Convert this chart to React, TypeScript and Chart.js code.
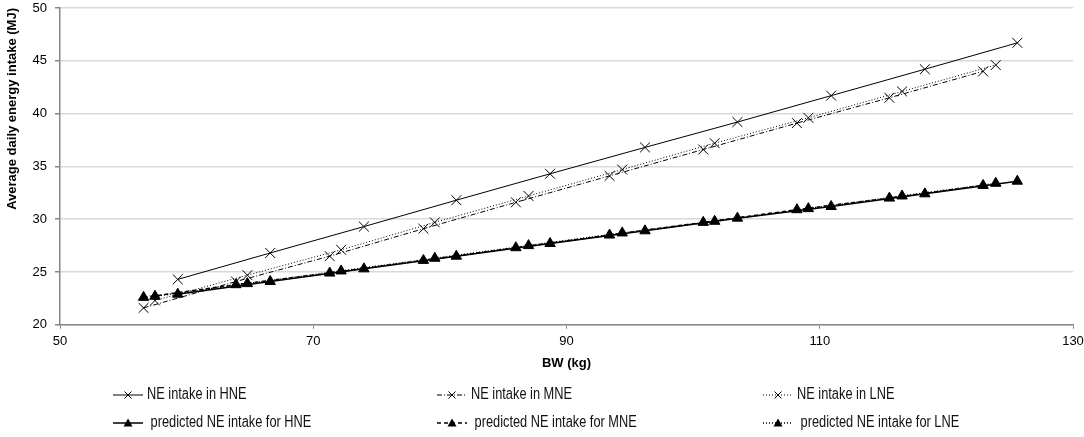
import { useEffect, useRef } from "react";
import Chart from "chart.js/auto";

// body weight (kg) per group
const bwHNE = [59.3, 66.6, 74.0, 81.3, 88.7, 96.2, 103.5, 110.9, 118.3, 125.6];
const bwMNE = [56.6, 63.9, 71.3, 78.7, 86.0, 93.4, 100.8, 108.2, 115.5, 122.9];
const bwLNE = [57.5, 64.8, 72.2, 79.6, 87.0, 94.4, 101.7, 109.1, 116.5, 123.9];

// observed NE intake (MJ/d)
const neHNE = [24.3, 26.8, 29.3, 31.8, 34.3, 36.8, 39.2, 41.7, 44.2, 46.7];
const neMNE = [21.6, 24.1, 26.5, 29.1, 31.6, 34.1, 36.6, 39.1, 41.5, 44.0];
const neLNE = [22.3, 24.7, 27.1, 29.7, 32.2, 34.7, 37.2, 39.6, 42.1, 44.6];

// predicted NE intake (MJ/d)
const predHNE = [22.9, 24.1, 25.3, 26.5, 27.7, 28.9, 30.1, 31.2, 32.4, 33.6];
const predMNE = [22.6, 23.8, 24.9, 26.1, 27.3, 28.5, 29.7, 30.9, 32.0, 33.2];
const predLNE = [22.7, 23.9, 25.1, 26.3, 27.5, 28.7, 29.8, 31.0, 32.2, 33.4];

const xTicks = [50, 70, 90, 110, 130];
const yTicks = [20, 25, 30, 35, 40, 45, 50];

const FONT = "'Liberation Sans', Arial, sans-serif";
const SOLID: number[] = [];
const DASHDOT = [5, 2, 1, 2];
const DASHED = [4, 3];
const DOTTED = [1, 2];

const toPoints = (xs: number[], ys: number[]) => xs.map((x, i) => ({ x, y: ys[i] }));

const series = [
  { label: "NE intake in HNE", xs: bwHNE, ys: neHNE, dash: SOLID, style: "crossRot", width: 1 },
  { label: "NE intake in MNE", xs: bwMNE, ys: neMNE, dash: DASHDOT, style: "crossRot", width: 1 },
  { label: "NE intake in LNE", xs: bwLNE, ys: neLNE, dash: DOTTED, style: "crossRot", width: 1 },
  { label: " predicted NE intake for HNE", xs: bwHNE, ys: predHNE, dash: SOLID, style: "triangle", width: 1.5 },
  { label: " predicted NE intake for MNE", xs: bwMNE, ys: predMNE, dash: DASHED, style: "triangle", width: 1.5 },
  { label: " predicted NE intake for LNE", xs: bwLNE, ys: predLNE, dash: DOTTED, style: "triangle", width: 1.5 },
];

// legend grid: 3 columns x 2 rows under the axis title
const legendCols = [113, 437, 763];
const legendRows = [395, 423];

const drawMarker = (ctx: CanvasRenderingContext2D, style: string, x: number, y: number) => {
  ctx.save();
  ctx.setLineDash([]);
  ctx.strokeStyle = "#000";
  ctx.fillStyle = "#000";
  ctx.lineWidth = 1;
  if (style === "crossRot") {
    const r = 3.5;
    ctx.beginPath();
    ctx.moveTo(x - r, y - r);
    ctx.lineTo(x + r, y + r);
    ctx.moveTo(x + r, y - r);
    ctx.lineTo(x - r, y + r);
    ctx.stroke();
  } else {
    const r = 4.5;
    ctx.beginPath();
    ctx.moveTo(x, y - r);
    ctx.lineTo(x + r, y + r * 0.8);
    ctx.lineTo(x - r, y + r * 0.8);
    ctx.closePath();
    ctx.fill();
  }
  ctx.restore();
};

const gridLegend = {
  id: "gridLegend",
  afterDraw(chart: Chart) {
    const ctx = chart.ctx;
    ctx.save();
    ctx.font = `16px ${FONT}`;
    ctx.textBaseline = "middle";
    ctx.fillStyle = "#111";
    series.forEach((s, i) => {
      const x = legendCols[i % 3];
      const y = legendRows[Math.floor(i / 3)];
      ctx.strokeStyle = "#000";
      ctx.lineWidth = s.width;
      ctx.setLineDash(s.dash);
      ctx.beginPath();
      ctx.moveTo(x, y);
      ctx.lineTo(x + 30, y);
      ctx.stroke();
      drawMarker(ctx, s.style, x + 15, y);
      // narrow face is not installed, so squeeze the regular one
      ctx.save();
      ctx.translate(x + 34, y);
      ctx.scale(0.8, 1);
      ctx.fillText(s.label, 0, 0);
      ctx.restore();
    });
    ctx.restore();
  },
};

const EnergyChart = () => {
  const canvasRef = useRef<HTMLCanvasElement>(null);
  const chartRef = useRef<Chart | null>(null);

  useEffect(() => {
    document.body.style.margin = "0";
    if (!canvasRef.current) return;
    if (chartRef.current) chartRef.current.destroy();

    chartRef.current = new Chart(canvasRef.current, {
      type: "scatter",
      data: {
        datasets: series.map((s) => ({
          label: s.label,
          data: toPoints(s.xs, s.ys),
          showLine: true,
          borderColor: "#000",
          backgroundColor: "#000",
          borderWidth: s.width,
          borderDash: s.dash,
          pointStyle: s.style,
          pointRadius: s.style === "crossRot" ? 7 : 6,
          pointBorderWidth: 1,
          pointBorderColor: "#000",
          pointBackgroundColor: "#000",
        })),
      },
      options: {
        responsive: true,
        maintainAspectRatio: false,
        animation: false,
        plugins: {
          legend: { display: false },
          tooltip: { enabled: false },
        },
        layout: {
          padding: { left: 0, right: 0, top: 0, bottom: 57 },
        },
        scales: {
          x: {
            type: "linear",
            min: 50,
            max: 130,
            afterBuildTicks: (axis: any) => {
              axis.ticks = xTicks.map((v) => ({ value: v }));
            },
            afterFit: (axis: any) => {
              axis.paddingRight = 11;
            },
            grid: {
              drawOnChartArea: false,
              tickLength: 4,
              tickColor: "#868686",
            },
            border: { color: "#868686", width: 1.5 },
            ticks: {
              font: { family: FONT, size: 13 },
              color: "#000",
              padding: 5,
              maxRotation: 0,
            },
            title: {
              display: true,
              text: "BW (kg)",
              font: { family: FONT, size: 13, weight: "bold" },
              color: "#000",
              padding: { top: 1, bottom: 9 },
            },
          },
          y: {
            type: "linear",
            min: 20,
            max: 50,
            afterBuildTicks: (axis: any) => {
              axis.ticks = yTicks.map((v) => ({ value: v }));
            },
            afterFit: (axis: any) => {
              axis.width = 60;
              axis.paddingTop = 6;
            },
            grid: {
              color: "#d9d9d9",
              lineWidth: 1.5,
              tickLength: 5,
              tickColor: "#868686",
            },
            border: { color: "#868686", width: 1.5 },
            ticks: {
              font: { family: FONT, size: 13 },
              color: "#000",
              padding: 8,
            },
            title: {
              display: true,
              text: "Average daily energy intake (MJ)",
              align: "end",
              font: { family: FONT, size: 13, weight: "bold" },
              color: "#000",
              padding: { top: 5, bottom: 0 },
            },
          },
        },
      },
      plugins: [gridLegend],
    });

    return () => {
      if (chartRef.current) {
        chartRef.current.destroy();
        chartRef.current = null;
      }
    };
  }, []);

  return (
    <div style={{ width: 1084, height: 437, position: "relative", background: "#fff" }}>
      <canvas ref={canvasRef} />
    </div>
  );
};

export default function App() {
  return <EnergyChart />;
}
